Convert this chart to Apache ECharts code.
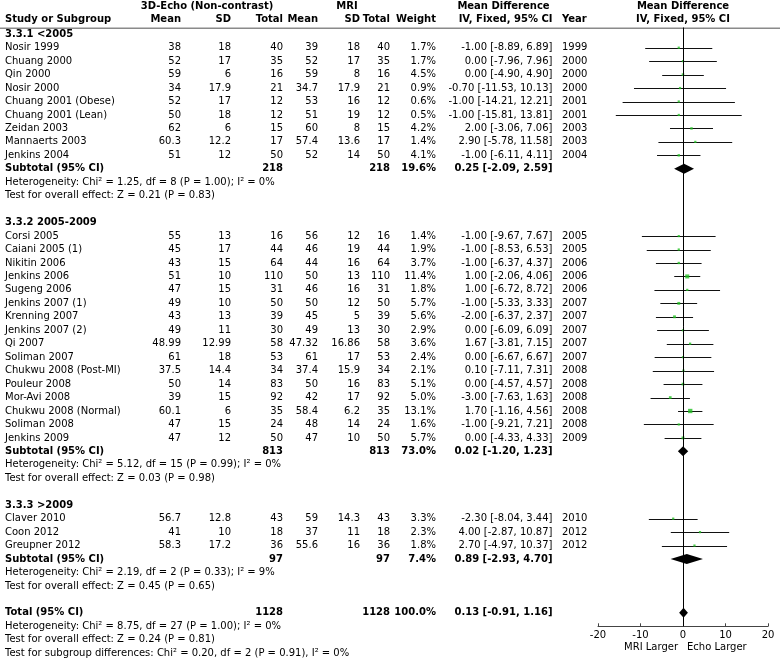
<!DOCTYPE html>
<html><head><meta charset="utf-8">
<script src="https://cdn.jsdelivr.net/npm/echarts@6/dist/echarts.min.js"></script>
<style>html,body{margin:0;padding:0;background:#fff}#c{width:780px;height:661px}</style>
</head><body><div id="c"></div>
<script>
// ---------------- DATA ----------------
const groupLabels = ['3.3.1 <2005', '3.3.2 2005-2009', '3.3.3 >2009'];
const groupSizes = [9, 16, 3];
const studies = ['Nosir 1999','Chuang 2000','Qin 2000','Nosir 2000','Chuang 2001 (Obese)','Chuang 2001 (Lean)','Zeidan 2003','Mannaerts 2003','Jenkins 2004',
  'Corsi 2005','Caiani 2005 (1)','Nikitin 2006','Jenkins 2006','Sugeng 2006','Jenkins 2007 (1)','Krenning 2007','Jenkins 2007 (2)','Qi 2007','Soliman 2007','Chukwu 2008 (Post-MI)','Pouleur 2008','Mor-Avi 2008','Chukwu 2008 (Normal)','Soliman 2008','Jenkins 2009',
  'Claver 2010','Coon 2012','Greupner 2012'];
const echoMean = [38,52,59,34,52,50,62,60.3,51, 55,45,43,51,47,49,43,49,48.99,61,37.5,50,39,60.1,47,47, 56.7,41,58.3];
const echoSD   = [18,17,6,17.9,17,18,6,12.2,12, 13,17,15,10,15,10,13,11,12.99,18,14.4,14,15,6,15,12, 12.8,10,17.2];
const echoN    = [40,35,16,21,12,12,15,17,50, 16,44,64,110,31,50,39,30,58,53,34,83,92,35,24,50, 43,18,36];
const mriMean  = [39,52,59,34.7,53,51,60,57.4,52, 56,46,44,50,46,50,45,49,47.32,61,37.4,50,42,58.4,48,47, 59,37,55.6];
const mriSD    = [18,17,8,17.9,16,19,8,13.6,14, 12,19,16,13,16,12,5,13,16.86,17,15.9,16,17,6.2,14,10, 14.3,11,16];
const mriN     = [40,35,16,21,12,12,15,17,50, 16,44,64,110,31,50,39,30,58,53,34,83,92,35,24,50, 43,18,36];
const weights  = [1.7,1.7,4.5,0.9,0.6,0.5,4.2,1.4,4.1, 1.4,1.9,3.7,11.4,1.8,5.7,5.6,2.9,3.6,2.4,2.1,5.1,5.0,13.1,1.6,5.7, 3.3,2.3,1.8];
const meanDiff = [-1.00,0.00,0.00,-0.70,-1.00,-1.00,2.00,2.90,-1.00, -1.00,-1.00,-1.00,1.00,1.00,-1.00,-2.00,0.00,1.67,0.00,0.10,0.00,-3.00,1.70,-1.00,0.00, -2.30,4.00,2.70];
const ciLow    = [-8.89,-7.96,-4.90,-11.53,-14.21,-15.81,-3.06,-5.78,-6.11, -9.67,-8.53,-6.37,-2.06,-6.72,-5.33,-6.37,-6.09,-3.81,-6.67,-7.11,-4.57,-7.63,-1.16,-9.21,-4.33, -8.04,-2.87,-4.97];
const ciHigh   = [6.89,7.96,4.90,10.13,12.21,13.81,7.06,11.58,4.11, 7.67,6.53,4.37,4.06,8.72,3.33,2.37,6.09,7.15,6.67,7.31,4.57,1.63,4.56,7.21,4.33, 3.44,10.87,10.37];
const years    = [1999,2000,2000,2000,2001,2001,2003,2003,2004, 2005,2005,2006,2006,2006,2007,2007,2007,2007,2007,2008,2008,2008,2008,2008,2009, 2010,2012,2012];

const subN     = [218, 813, 97];
const subW     = [19.6, 73.0, 7.4];
const subMD    = [0.25, 0.02, 0.89];
const subLow   = [-2.09, -1.20, -2.93];
const subHigh  = [2.59, 1.23, 4.70];
const subChi   = ['1.25', '5.12', '2.19'];
const subDf    = [8, 15, 2];
const subP     = ['1.00', '0.99', '0.33'];
const subI2    = [0, 0, 9];
const subZ     = ['0.21', '0.03', '0.45'];
const subPZ    = ['0.83', '0.98', '0.65'];

const totalN = 1128, totalW = 100.0, totalMD = 0.13, totalLow = -0.91, totalHigh = 1.16;
const totalChi = '8.75', totalDf = 27, totalP = '1.00', totalI2 = 0, totalZ = '0.24', totalPZ = '0.81';
const sgChi = '0.20', sgDf = 2, sgP = '0.91', sgI2 = 0;

const xTicks = [-20, -10, 0, 10, 20];

// ---------------- LAYOUT ----------------
const W = 780, H = 661;
const FONT = '"DejaVu Sans", Verdana, sans-serif';
const FS = 10;
const G = {top: 27.5, bottom: 34.7, left: 598, right: 12};
const yMin = -1.5, yMax = 43;
function yPx(r) { return G.top + (r - yMin) / (yMax - yMin) * (H - G.top - G.bottom); }
const col = {name: 5, eM: 181, eSD: 231, eN: 283, mM: 318, mSD: 360, mN: 390, w: 436, ci: 552.5, yr: 562};

// assign rows
const studyRow = [], groupRow = [], subRow = [];
let r = -1;
groupSizes.forEach((n) => {
  groupRow.push(r); r++;
  for (let i = 0; i < n; i++) { studyRow.push(r); r++; }
  subRow.push(r);
  r += 4;
});
const totalRow = r;

const fmt2 = v => v.toFixed(2);
const ciText = (m, lo, hi) => `${fmt2(m)} [${fmt2(lo)}, ${fmt2(hi)}]`;

const texts = [];
function T(text, x, row, align, bold) {
  texts.push({
    type: 'text', silent: true, x: x, y: yPx(row),
    style: {text: String(text), font: (bold ? 'bold ' : '') + FS + 'px ' + FONT, fill: '#000',
      textAlign: align, textVerticalAlign: 'middle', align: align, verticalAlign: 'middle'}
  });
}
// headers
T('3D-Echo (Non-contrast)', 207, -3.1, 'center', true);
T('MRI', 347, -3.1, 'center', true);
T('Mean Difference', 503.5, -3.1, 'center', true);
T('Mean Difference', 683, -3.1, 'center', true);
T('Study or Subgroup', col.name, -2.1, 'left', true);
T('Mean', col.eM, -2.1, 'right', true);
T('SD', col.eSD, -2.1, 'right', true);
T('Total', col.eN, -2.1, 'right', true);
T('Mean', col.mM, -2.1, 'right', true);
T('SD', col.mSD, -2.1, 'right', true);
T('Total', col.mN, -2.1, 'right', true);
T('Weight', col.w, -2.1, 'right', true);
T('IV, Fixed, 95% CI', col.ci, -2.1, 'right', true);
T('Year', col.yr, -2.1, 'left', true);
T('IV, Fixed, 95% CI', 683, -2.1, 'center', true);

studies.forEach((s, i) => {
  const rr = studyRow[i];
  T(s, col.name, rr, 'left');
  T(echoMean[i], col.eM, rr, 'right');
  T(echoSD[i], col.eSD, rr, 'right');
  T(echoN[i], col.eN, rr, 'right');
  T(mriMean[i], col.mM, rr, 'right');
  T(mriSD[i], col.mSD, rr, 'right');
  T(mriN[i], col.mN, rr, 'right');
  T(weights[i].toFixed(1) + '%', col.w, rr, 'right');
  T(ciText(meanDiff[i], ciLow[i], ciHigh[i]), col.ci, rr, 'right');
  T(years[i], col.yr, rr, 'left');
});
groupLabels.forEach((g, j) => {
  T(g, col.name, groupRow[j], 'left', true);
  const sr = subRow[j];
  T('Subtotal (95% CI)', col.name, sr, 'left', true);
  T(subN[j], col.eN, sr, 'right', true);
  T(subN[j], col.mN, sr, 'right', true);
  T(subW[j].toFixed(1) + '%', col.w, sr, 'right', true);
  T(ciText(subMD[j], subLow[j], subHigh[j]), col.ci, sr, 'right', true);
  T(`Heterogeneity: Chi² = ${subChi[j]}, df = ${subDf[j]} (P = ${subP[j]}); I² = ${subI2[j]}%`, col.name, sr + 1, 'left');
  T(`Test for overall effect: Z = ${subZ[j]} (P = ${subPZ[j]})`, col.name, sr + 2, 'left');
});
T('Total (95% CI)', col.name, totalRow, 'left', true);
T(totalN, col.eN, totalRow, 'right', true);
T(totalN, col.mN, totalRow, 'right', true);
T(totalW.toFixed(1) + '%', col.w, totalRow, 'right', true);
T(ciText(totalMD, totalLow, totalHigh), col.ci, totalRow, 'right', true);
T(`Heterogeneity: Chi² = ${totalChi}, df = ${totalDf} (P = ${totalP}); I² = ${totalI2}%`, col.name, totalRow + 1, 'left');
T(`Test for overall effect: Z = ${totalZ} (P = ${totalPZ})`, col.name, totalRow + 2, 'left');
T(`Test for subgroup differences: Chi² = ${sgChi}, df = ${sgDf} (P = ${sgP}), I² = ${sgI2}%`, col.name, totalRow + 3, 'left');
T('MRI Larger', 678, totalRow + 2.55, 'right');
T('Echo Larger', 687, totalRow + 2.55, 'left');

texts.push({type: 'line', silent: true, shape: {x1: 0, y1: yPx(-1.45), x2: W, y2: yPx(-1.45)},
  style: {stroke: '#8a8a8a', lineWidth: 1.5}});

// ---------------- CHART ----------------
const ciData = studies.map((s, i) => [ciLow[i], ciHigh[i], studyRow[i]]);
const ptData = studies.map((s, i) => [meanDiff[i], studyRow[i], weights[i]]);
const diaData = subRow.map((sr, j) => [subLow[j], subHigh[j], subMD[j], sr]);
diaData.push([totalLow, totalHigh, totalMD, totalRow]);

const chart = echarts.init(document.getElementById('c'), null, {renderer: 'canvas'});
chart.setOption({
  animation: false,
  backgroundColor: '#fff',
  grid: {left: G.left, right: G.right, top: G.top, bottom: G.bottom, containLabel: false},
  xAxis: {type: 'value', min: xTicks[0], max: xTicks[xTicks.length - 1], interval: 10, position: 'bottom',
    axisLine: {onZero: false, lineStyle: {color: '#444', width: 1}},
    axisTick: {inside: true, length: 3, lineStyle: {color: '#444'}},
    axisLabel: {color: '#000', fontFamily: FONT, fontSize: FS, margin: 4},
    splitLine: {show: false}},
  yAxis: {type: 'value', inverse: true, min: yMin, max: yMax, show: false},
  graphic: texts,
  series: [
    {type: 'custom', silent: true, clip: false, data: ciData, encode: {x: [0, 1], y: 2},
      renderItem: (p, api) => {
        const a = api.coord([api.value(0), api.value(2)]);
        const b = api.coord([api.value(1), api.value(2)]);
        const y = Math.round(a[1]) + 0.5;
        return {type: 'line', shape: {x1: a[0], y1: y, x2: b[0], y2: y}, style: {stroke: '#111', lineWidth: 1}};
      }},
    {type: 'scatter', silent: true, symbol: 'rect', data: ptData, z: 3,
      symbolSize: v => Math.max(2.2, 1.2 * Math.sqrt(v[2])),
      itemStyle: {color: '#22c022'},
      markLine: {silent: true, symbol: 'none', label: {show: false},
        lineStyle: {color: '#000', width: 1, type: 'solid'}, data: [{xAxis: 0}]}},
    {type: 'custom', silent: true, clip: false, data: diaData, encode: {x: [0, 1, 2], y: 3},
      renderItem: (p, api) => {
        const l = api.coord([api.value(0), api.value(3)]);
        const rt = api.coord([api.value(1), api.value(3)]);
        const c = api.coord([api.value(2), api.value(3)]);
        return {type: 'polygon', shape: {points: [[l[0], l[1]], [c[0], c[1] - 5], [rt[0], rt[1]], [c[0], c[1] + 5]]},
          style: {fill: '#000'}};
      }}
  ]
});
</script></body></html>
